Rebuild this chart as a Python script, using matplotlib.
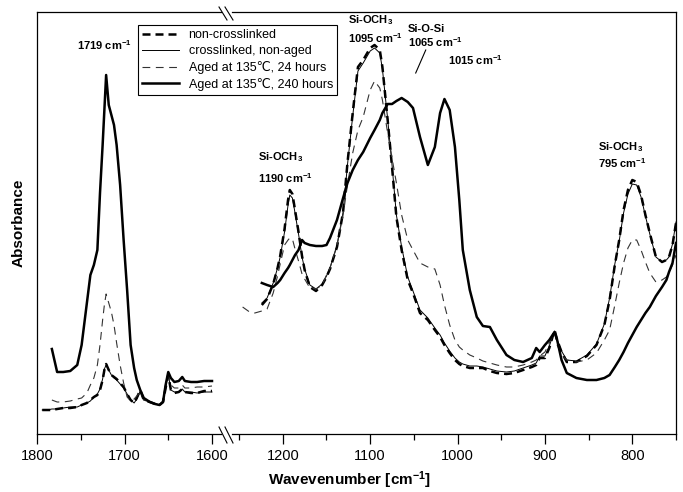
import numpy as np
import matplotlib
matplotlib.use("Agg")
import matplotlib.pyplot as plt
from matplotlib.lines import Line2D

plt.rcParams['font.family'] = ['Liberation Sans', 'DejaVu Sans']
plt.rcParams['mathtext.fontset'] = 'custom'
plt.rcParams['mathtext.rm'] = 'Liberation Sans'
plt.rcParams['mathtext.bf'] = 'Liberation Sans:bold'
plt.rcParams['mathtext.it'] = 'Liberation Sans:italic'

nan = np.nan

# carbonyl region (left part of the broken axis)
wn_left = [1794, 1788, 1783, 1777, 1770, 1762, 1754, 1749, 1743, 1739, 1735, 1731, 1728, 1725, 1723,
           1721, 1718, 1715, 1712, 1709, 1705, 1701, 1697, 1693, 1689, 1686, 1682, 1678, 1671, 1665,
           1660, 1656, 1653, 1650, 1647, 1643, 1638, 1634, 1631, 1624, 1617, 1609, 1600]
nc_left = [0.24, 0.24, 0.24, 0.25, 0.26, 0.26, 0.27, 0.29, 0.31, 0.34, 0.37, 0.39, 0.44, 0.54, 0.64,
           0.70, 0.64, 0.59, 0.57, 0.55, 0.51, 0.47, 0.40, 0.34, 0.31, 0.36, 0.44, 0.34, 0.32, 0.30,
           0.29, 0.32, 0.46, 0.59, 0.44, 0.41, 0.42, 0.45, 0.42, 0.41, 0.41, 0.43, 0.43]
xl_left = [0.24, 0.24, 0.25, 0.25, 0.26, 0.27, 0.27, 0.29, 0.31, 0.33, 0.37, 0.40, 0.45, 0.55, 0.65,
           0.69, 0.64, 0.59, 0.56, 0.54, 0.50, 0.46, 0.40, 0.34, 0.31, 0.35, 0.43, 0.34, 0.32, 0.30,
           0.29, 0.32, 0.47, 0.60, 0.44, 0.42, 0.42, 0.45, 0.42, 0.42, 0.41, 0.42, 0.42]
a24_left = [nan, nan, 0.34, 0.32, 0.32, 0.33, 0.35, 0.36, 0.41, 0.49, 0.56, 0.69, 0.89, 1.14, 1.29,
            1.40, 1.31, 1.22, 1.09, 0.91, 0.69, 0.51, 0.37, 0.33, 0.35, 0.38, 0.42, 0.34, 0.32, 0.30,
            0.29, 0.34, 0.49, 0.60, 0.49, 0.46, 0.46, 0.49, 0.46, 0.46, 0.47, 0.47, 0.48]
a240_left = [nan, nan, 0.85, 0.62, 0.62, 0.63, 0.69, 0.89, 1.31, 1.59, 1.69, 1.84, 2.41, 2.89, 3.24,
             3.59, 3.29, 3.19, 3.09, 2.89, 2.49, 1.94, 1.44, 0.89, 0.66, 0.54, 0.44, 0.36, 0.32, 0.30,
             0.29, 0.32, 0.49, 0.62, 0.56, 0.52, 0.53, 0.57, 0.53, 0.52, 0.52, 0.53, 0.53]

# Si-O region (right part)
wn_right = [1246, 1238, 1232, 1224, 1218, 1211, 1206, 1203, 1198, 1194, 1192, 1189, 1186, 1182, 1178,
            1175, 1169, 1162, 1155, 1150, 1146, 1138, 1131, 1126, 1120, 1114, 1108, 1100, 1095, 1089,
            1086, 1080, 1075, 1070, 1064, 1057, 1051, 1043, 1034, 1026, 1020, 1015, 1009, 1003, 998,
            994, 986, 978, 971, 963, 955, 944, 935, 925, 915, 910, 906, 900, 895, 889,
            886, 881, 875, 864, 852, 841, 832, 826, 820, 815, 810, 805, 800, 795, 790,
            785, 780, 773, 766, 761, 758, 754, 750]
nc_right = [nan, nan, nan, 1.29, 1.35, 1.50, 1.66, 1.78, 2.05, 2.34, 2.44, 2.40, 2.24, 2.02, 1.78,
            1.64, 1.47, 1.43, 1.49, 1.57, 1.65, 1.87, 2.22, 2.71, 3.21, 3.67, 3.74, 3.86, 3.89, 3.84,
            3.67, 3.14, 2.67, 2.17, 1.84, 1.54, 1.41, 1.21, 1.14, 1.04, 0.97, 0.89, 0.81, 0.74, 0.70,
            0.68, 0.66, 0.66, 0.66, 0.63, 0.61, 0.60, 0.61, 0.64, 0.67, 0.69, 0.76, 0.76, 0.86, 1.04,
            0.94, 0.82, 0.72, 0.72, 0.78, 0.89, 1.09, 1.34, 1.69, 1.94, 2.24, 2.44, 2.54, 2.52, 2.39,
            2.19, 2.01, 1.77, 1.72, 1.74, 1.77, 1.89, 2.11]
xl_right = [nan, nan, nan, 1.31, 1.36, 1.51, 1.66, 1.77, 2.02, 2.29, 2.39, 2.36, 2.21, 2.00, 1.77,
            1.65, 1.49, 1.45, 1.50, 1.58, 1.66, 1.88, 2.22, 2.69, 3.18, 3.63, 3.71, 3.83, 3.86, 3.81,
            3.65, 3.15, 2.69, 2.19, 1.87, 1.57, 1.43, 1.24, 1.16, 1.06, 0.99, 0.91, 0.83, 0.76, 0.72,
            0.70, 0.68, 0.68, 0.67, 0.65, 0.63, 0.62, 0.63, 0.66, 0.69, 0.71, 0.78, 0.78, 0.88, 1.03,
            0.94, 0.83, 0.74, 0.73, 0.79, 0.90, 1.10, 1.36, 1.70, 1.93, 2.21, 2.40, 2.50, 2.49, 2.37,
            2.18, 2.00, 1.77, 1.72, 1.74, 1.77, 1.90, 2.12]
a24_right = [1.27, 1.22, 1.21, 1.23, 1.25, 1.41, 1.58, 1.70, 1.89, 1.94, 1.96, 1.95, 1.85, 1.73, 1.60,
             1.55, 1.46, 1.45, 1.49, 1.59, 1.66, 1.89, 2.19, 2.49, 2.81, 3.04, 3.17, 3.44, 3.53, 3.46,
             3.34, 3.01, 2.76, 2.51, 2.19, 1.94, 1.84, 1.71, 1.67, 1.65, 1.49, 1.29, 1.09, 0.94, 0.87,
             0.84, 0.79, 0.76, 0.73, 0.71, 0.69, 0.67, 0.67, 0.69, 0.72, 0.74, 0.78, 0.82, 0.91, 1.02,
             0.89, 0.79, 0.74, 0.72, 0.74, 0.81, 0.94, 1.04, 1.29, 1.51, 1.71, 1.86, 1.94, 1.94, 1.84,
             1.72, 1.61, 1.52, 1.54, 1.57, 1.61, 1.69, 1.79]
a240_right = [nan, nan, nan, 1.51, 1.49, 1.47, 1.51, 1.54, 1.61, 1.66, 1.69, 1.74, 1.79, 1.84, 1.94,
              1.91, 1.89, 1.88, 1.88, 1.89, 1.96, 2.14, 2.36, 2.51, 2.64, 2.74, 2.82, 2.96, 3.04, 3.14,
              3.21, 3.30, 3.30, 3.33, 3.36, 3.32, 3.26, 2.97, 2.69, 2.87, 3.21, 3.35, 3.24, 2.87, 2.34,
              1.84, 1.44, 1.17, 1.08, 1.07, 0.94, 0.79, 0.74, 0.72, 0.76, 0.86, 0.82, 0.89, 0.94, 1.02,
              0.94, 0.74, 0.61, 0.56, 0.54, 0.54, 0.56, 0.59, 0.67, 0.74, 0.82, 0.91, 0.99, 1.07, 1.14,
              1.21, 1.27, 1.38, 1.47, 1.54, 1.62, 1.71, 1.91]

labels = ['non-crosslinked', 'crosslinked, non-aged',
          'Aged at 135\u2103, 24 hours', 'Aged at 135\u2103, 240 hours']
styles = [dict(color='black', lw=1.8, dashes=(3.2, 2.0)),
          dict(color='black', lw=0.7),
          dict(color='#333333', lw=0.8, dashes=(7, 5)),
          dict(color='black', lw=1.8)]

W, H = 683, 492
fig = plt.figure(figsize=(W / 100, H / 100), dpi=100)
bot, hgt = 1 - 434 / H, 422 / H
axl = fig.add_axes([37 / W, bot, (221 - 37) / W, hgt])
axr = fig.add_axes([232 / W, bot, (676 - 232) / W, hgt])

for ys, st in zip([nc_left, xl_left, a24_left, a240_left], styles):
    axl.plot(wn_left, ys, **st)
handles = []
for ys, st, lab in zip([nc_right, xl_right, a24_right, a240_right], styles, labels):
    h, = axr.plot(wn_right, ys, label=lab, **st)
    handles.append(h)

axl.set_xlim(1800, 1800 - 184 / 0.875)
axr.set_xlim(1481 - 195 / 0.875, 750)
for ax in (axl, axr):
    ax.set_ylim(0, 4.22)
    ax.set_yticks([])
    for s in ax.spines.values():
        s.set_linewidth(0.9)
    ax.tick_params(axis='x', which='major', direction='out', length=7, width=0.9,
                   labelsize=10.5, pad=4)
    ax.tick_params(axis='x', which='minor', direction='out', length=4, width=0.9)
axl.spines['right'].set_visible(False)
axr.spines['left'].set_visible(False)
axl.set_xticks([1800, 1700, 1600])
axl.set_xticks([1750, 1650], minor=True)
axr.set_xticks([1200, 1100, 1000, 900, 800])
axr.set_xticks([1250, 1150, 1050, 950, 850, 750], minor=True)

axl.set_ylabel('Absorbance', fontsize=11, fontweight='bold', labelpad=8)
fig.text(350 / W, 1 - 480 / H, 'Wavevenumber [cm$^{\\mathbf{-1}}$]', fontsize=11,
         fontweight='bold', ha='center', va='center')

# axis break marks
for y0, y1 in [(7, 20), (427, 443)]:
    for x0 in (219, 225):
        fig.add_artist(Line2D([x0 / W, (x0 + 8) / W], [1 - y0 / H, 1 - y1 / H],
                              transform=fig.transFigure, color='black', lw=0.8))

bold = dict(fontsize=8, fontweight='bold', ha='left', va='center')
axl.text(1754, 3.89, '1719 cm$^{\\mathbf{-1}}$', **bold)
axr.text(1228, 2.77, 'Si-OCH$_{\\mathbf{3}}$', **bold)
axr.text(1228, 2.56, '1190 cm$^{\\mathbf{-1}}$', **bold)
axr.text(1125.6, 4.14, 'Si-OCH$_{\\mathbf{3}}$', **bold)
axr.text(1125.6, 3.96, '1095 cm$^{\\mathbf{-1}}$', **bold)
axr.text(1057, 4.05, 'Si-O-Si', **bold)
axr.text(1057, 3.92, '1065 cm$^{\\mathbf{-1}}$', **bold)
axr.text(1011, 3.74, '1015 cm$^{\\mathbf{-1}}$', **bold)
axr.plot([1036.4, 1047.9], [3.84, 3.61], color='black', lw=0.8)
axr.text(838.7, 2.87, 'Si-OCH$_{\\mathbf{3}}$', **bold)
axr.text(838.7, 2.71, '795 cm$^{\\mathbf{-1}}$', **bold)

leg = fig.legend(handles=handles, loc='upper left', bbox_to_anchor=(138 / W, 1 - 25 / H),
                 fontsize=9, frameon=True, fancybox=False, framealpha=1, edgecolor='black',
                 handlelength=2.9, labelspacing=0.3, borderpad=0.35, handletextpad=0.8,
                 borderaxespad=0)
leg.get_frame().set_linewidth(0.8)

fig.savefig('out.png', dpi=100)
